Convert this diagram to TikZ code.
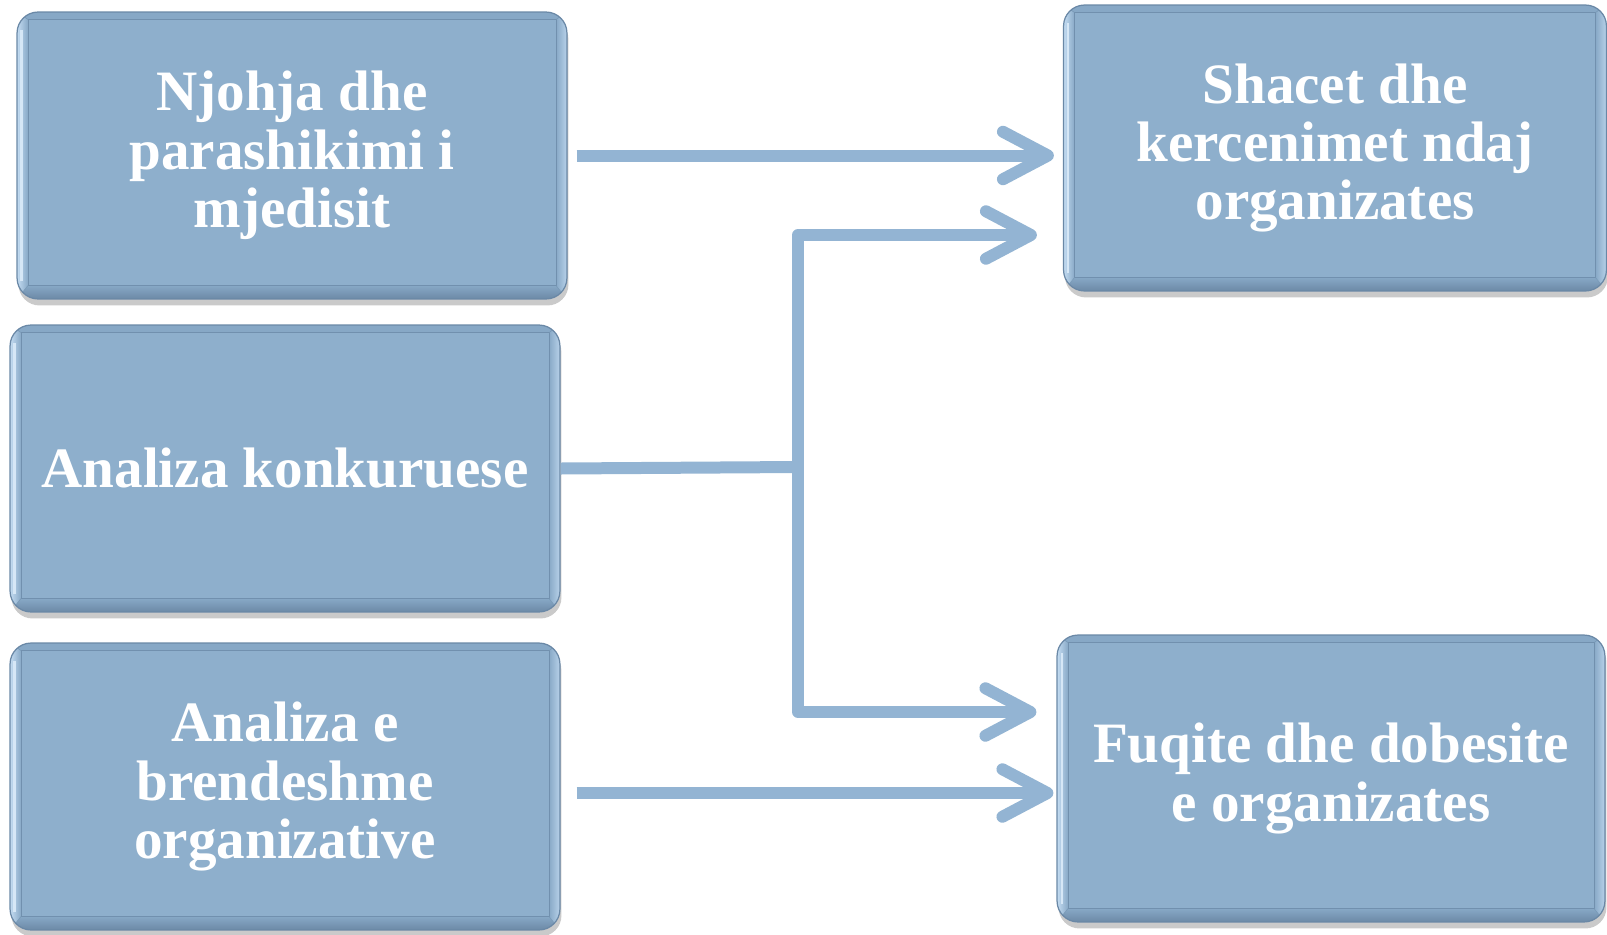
\documentclass[tikz,border=0pt]{standalone}
\usepackage{fontspec}
\setmainfont{Liberation Serif}
\usetikzlibrary{arrows.meta,shadows,calc}

\definecolor{face}{HTML}{8EAFCC}
\definecolor{rim}{HTML}{6A88A6}
\definecolor{bevtop}{HTML}{87A8C6}
\definecolor{bevdark}{HTML}{6C89A6}
\definecolor{bevlight}{HTML}{C4DCF2}
\definecolor{link}{HTML}{93B4D3}

\tikzset{
  panel/.style={
    rounded corners=0.42cm, fill=bevtop, draw=rim, line width=0.7pt,
    text=white, align=center,
    font=\fontsize{32.5}{33.2}\selectfont\bfseries,
    drop shadow={shadow xshift=0.03cm, shadow yshift=-0.13cm, opacity=0.35, fill=black!60},
    path picture={
      \begin{scope}[sharp corners]
      \coordinate (pa) at (path picture bounding box.south west);
      \coordinate (pb) at (path picture bounding box.north east);
      \coordinate (qa) at ($(pa)+(0.22cm,0.27cm)$);
      \coordinate (qb) at ($(pb)+(-0.22cm,-0.15cm)$);
      % bevel: bottom, left, right, top
      \shade[top color=bevtop, bottom color=bevdark]
        (pa) -- (pb |- pa) -- (qb |- qa) -- (qa) -- cycle;
      \shade[left color=bevlight, right color=bevtop]
        (pa) -- (qa) -- (qa |- qb) -- (pa |- pb) -- cycle;
      \shade[left color=bevtop, right color=bevlight!80!bevtop]
        (pb |- pa) -- (qb |- qa) -- (qb) -- (pb) -- cycle;
      \fill[bevtop]
        (pa |- pb) -- (qa |- qb) -- (qb) -- (pb) -- cycle;
      % flat face
      \fill[face] (qa) rectangle (qb);
      \draw[rim!80!face, line width=0.4pt] (qa) rectangle (qb);
      \draw[rim!60!face, line width=0.3pt] (pa) -- (qa) (pb |- pa) -- (qb |- qa)
        (pa |- pb) -- (qa |- qb) (pb) -- (qb);
      % highlight along the left bevel
      \draw[bevlight!70!white, line width=1.2pt]
        ($(pa)+(0.09cm,0.35cm)$) -- ($(pa |- pb)+(0.09cm,-0.35cm)$);
      \end{scope}
    }
  },
  link/.style={draw=link, line width=0.24cm, line join=round},
  conn/.style={link, -{Straight Barb[length=0.9cm, width=0.95cm, round]}}
}

\begin{document}
\begin{tikzpicture}[x=0.02cm, y=-0.02cm]
  \useasboundingbox (0,0) rectangle (1607,934);

  % left column
  \node[panel, minimum width=11cm, minimum height=5.74cm] (n1) at (292,155.5)
    {Njohja dhe\\parashikimi i\\mjedisit};
  \node[panel, minimum width=11cm, minimum height=5.74cm] (n2) at (285,468.5)
    {Analiza konkuruese};
  \node[panel, minimum width=11cm, minimum height=5.74cm] (n3) at (285,786.5)
    {Analiza e\\brendeshme\\organizative};

  % right column
  \node[panel, minimum width=10.86cm, minimum height=5.72cm] (s1) at (1335,148)
    {Shacet dhe\\kercenimet ndaj\\organizates};
  \node[panel, minimum width=10.96cm, minimum height=5.74cm] (s2) at (1331,778.5)
    {Fuqite dhe dobesite\\e organizates};

  % branch points
  \coordinate (j)  at (798,467);
  \coordinate (jt) at (798,235);
  \coordinate (jb) at (798,712);
  \coordinate (a3) at ([yshift=-0.13cm]n3.east);

  % connectors
  \draw[conn, shorten <=0.18cm, shorten >=0.18cm] (n1.east) -- (n1.east -| s1.west);
  \draw[link] (n2.east) -- (j);
  \draw[conn, shorten >=0.52cm] (j) -- (jt) -- (jt -| s1.west);
  \draw[conn, shorten >=0.4cm] (j) -- (jb) -- (jb -| s2.west);
  \draw[conn, shorten <=0.32cm, shorten >=0.06cm] (a3) -- (a3 -| s2.west);
\end{tikzpicture}
\end{document}
